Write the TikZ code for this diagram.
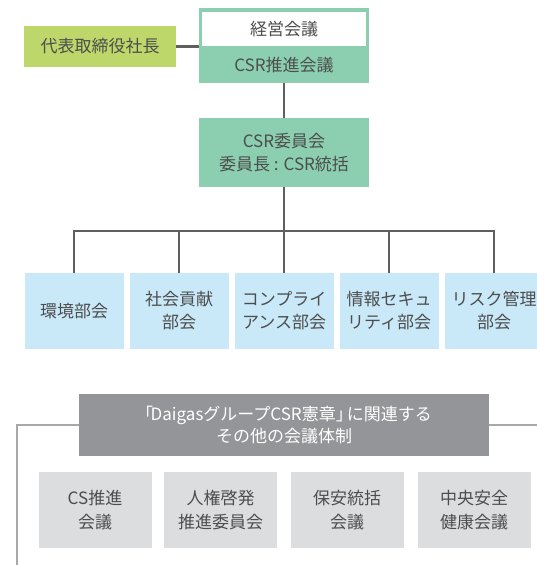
\documentclass[tikz,border=0pt]{standalone}
\usepackage{fontspec}
\setmainfont{Noto Sans CJK JP}
\definecolor{mint}{HTML}{8BCFB0}
\definecolor{lime}{HTML}{BDD76B}
\definecolor{sky}{HTML}{C9E8F8}
\definecolor{hdrgray}{HTML}{939598}
\definecolor{pale}{HTML}{DCDDDE}
\definecolor{ink}{HTML}{4D4D4D}
\definecolor{linedark}{HTML}{5F5F5F}
\definecolor{linelight}{HTML}{A7A8AA}
\begin{document}
\begin{tikzpicture}[x=1pt,y=-1pt,
  box/.style={draw=none,inner sep=0pt,align=center,text=ink,font=\fontsize{17}{23}\selectfont},
  deptbox/.style={box,fill=sky,minimum width=99pt,minimum height=76pt},
  confbox/.style={box,fill=pale,minimum width=113pt,minimum height=76pt,font=\fontsize{17}{24}\selectfont},
  darkline/.style={draw=linedark,line width=2.2pt},
  lightline/.style={draw=linelight,line width=1.3pt}]
\useasboundingbox (0,0) rectangle (537,565);
\clip (0,0) rectangle (537,565);
\fill[white] (0,0) rectangle (537,565);
% top block
\node[box,fill=mint,minimum width=170pt,minimum height=75pt] (top) at (284,45.5) {};
\node[box,fill=white,minimum width=164pt,minimum height=34pt] (keiei) at (284,29) {経営会議};
\node[box] (suishin) at (284,65) {CSR推進会議};
\node[box,fill=lime,minimum width=152pt,minimum height=41pt] (ceo) at (100,46.5) {代表取締役社長};
\node[box,fill=mint,minimum width=170pt,minimum height=69pt] (csr) at (284,152.5) {CSR委員会\\委員長 : CSR統括};
\draw[darkline] (ceo.east) -- (top.west |- ceo.east);
\draw[darkline] (top.south) -- (csr.north);
% departments
\node[deptbox] (d1) at (74,311) {環境部会};
\node[deptbox] (d2) at (179,311) {社会貢献\\部会};
\node[deptbox] (d3) at (284,311) {コンプライ\\アンス部会};
\node[deptbox] (d4) at (389,311) {情報セキュ\\リティ部会};
\node[deptbox] (d5) at (494,311) {リスク管理\\部会};
\coordinate (bar) at (284,231);
\draw[darkline] (csr.south) -- (bar);
\draw[darkline] (d1.north) -- (d1.north |- bar) -- (d5.north |- bar) -- (d5.north);
\draw[darkline] (d2.north) -- (d2.north |- bar);
\draw[darkline] (d3.north) -- (d3.north |- bar);
\draw[darkline] (d4.north) -- (d4.north |- bar);
% other meetings
\node[box,fill=hdrgray,text=white,minimum width=410pt,minimum height=62pt,font=\fontsize{17}{22}\selectfont] (hdr) at (284,425) {「\kern-2.5pt DaigasグループCSR憲章」\kern-6pt に関連する\\その他の会議体制};
\coordinate (corner) at (17,425);
\coordinate (bottomend) at (17,566);
\coordinate (rightend) at (538,425);
\draw[lightline] (hdr.west) -- (corner) -- (bottomend);
\draw[lightline] (hdr.east) -- (rightend);
\node[confbox] (c1) at (95,510) {CS推進\\会議};
\node[confbox] (c2) at (220.5,510) {人権啓発\\推進委員会};
\node[confbox] (c3) at (347,510) {保安統括\\会議};
\node[confbox] (c4) at (474,510) {中央安全\\健康会議};
\end{tikzpicture}
\end{document}
